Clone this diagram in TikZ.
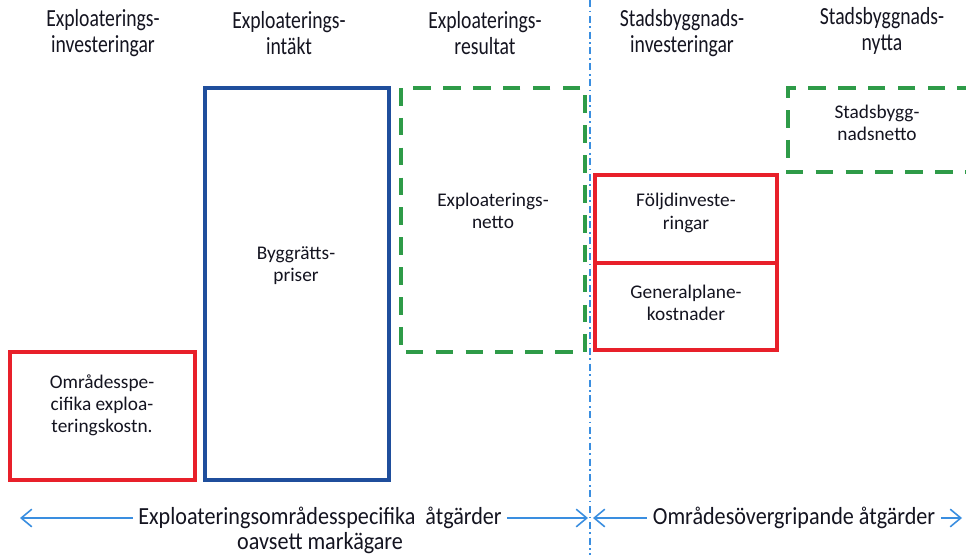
\documentclass[tikz,border=0pt]{standalone}
\usepackage{fontspec}
\setmainfont{Carlito}
\newfontfamily\headfont[FakeStretch=0.8]{Carlito}
\newfontfamily\footfont[FakeStretch=0.9]{Carlito}
\usetikzlibrary{arrows.meta}
\definecolor{cred}{HTML}{E8202A}
\definecolor{cblue}{HTML}{1F4E9C}
\definecolor{cgreen}{HTML}{2E9B48}
\definecolor{carrow}{HTML}{3A8EE0}
\definecolor{ctext}{HTML}{141420}
\tikzset{
  redbox/.style={draw=cred, line width=1.8pt},
  bluebox/.style={draw=cblue, line width=1.8pt},
  greenbox/.style={draw=cgreen, line width=2.3pt, dash pattern=on 10pt off 7pt},
  head/.style={align=center, font=\headfont\fontsize{14}{14.4}\selectfont, text=ctext, inner sep=1pt},
  lbl/.style={align=center, font=\fontsize{11}{12.6}\selectfont, text=ctext, inner sep=1pt},
  foot/.style={font=\footfont\fontsize{14}{14}\selectfont, text=ctext, inner sep=3pt},
  arr/.style={draw=carrow, line width=0.9pt},
  tipl/.style={arr, {Straight Barb[length=6pt,width=10pt]}-},
  tipr/.style={arr, -{Straight Barb[length=6pt,width=10pt]}},
  divider/.style={draw=carrow, line width=0.7pt, dash pattern=on 4pt off 2pt on 1pt off 2pt}
}
\begin{document}
\begin{tikzpicture}[x={(0.02cm,0)}, y={(0,-0.02cm)}]
\useasboundingbox (0,0) rectangle (966,555);
\clip (0,0) rectangle (966,555);
\fill[white] (0,0) rectangle (966,555);

% divider
\draw[divider] (590,0) -- (590,555);

% headings
\node[head] (h1) at (103,33) {Exploaterings-\\investeringar};
\node[head] (h2) at (289,33) {Exploaterings-\\intäkt};
\node[head] (h3) at (485,33) {Exploaterings-\\resultat};
\node[head] (h4) at (682,33) {Stadsbyggnads-\\investeringar};
\node[head] (h5) at (882,31) {Stadsbyggnads-\\nytta};

% boxes
\draw[redbox] (10,352) rectangle (195,480);
\draw[bluebox] (205,88) rectangle (389,480);
\draw[greenbox] (401,88) rectangle (585,352);
\draw[redbox] (595,175) rectangle (777,350);
\draw[redbox] (595,263) -- (777,263);
\draw[greenbox] (975,88) -- (788,88) -- (788,172) -- (975,172);

% box labels
\node[lbl] (t1) at (102,405) {Områdesspe-\\cifika exploa-\\teringskostn.};
\node[lbl] (t2) at (296,266) {Byggrätts-\\priser};
\node[lbl] (t3) at (493,211) {Exploaterings-\\netto};
\node[lbl] (t4) at (686,213) {Följdinveste-\\ringar};
\node[lbl] (t5) at (686,303) {Generalplane-\\kostnader};
\node[lbl] (t6) at (877,123) {Stadsbygg-\\nadsnetto};

% bottom
\node[foot] (b1) at (320,518) {Exploateringsområdesspecifika\ \ åtgärder};
\node[foot] (b2) at (320,543) {oavsett markägare};
\node[foot] (b3) at (794,518) {Områdesövergripande åtgärder};
\coordinate (l1) at (20,518);
\coordinate (r1) at (588,518);
\coordinate (l2) at (593,518);
\coordinate (r2) at (962,518);
\draw[tipl] (l1) -- (b1.west);
\draw[tipr] (b1.east) -- (r1);
\draw[tipl] (l2) -- (b3.west);
\draw[tipr] (b3.east) -- (r2);
\end{tikzpicture}
\end{document}
